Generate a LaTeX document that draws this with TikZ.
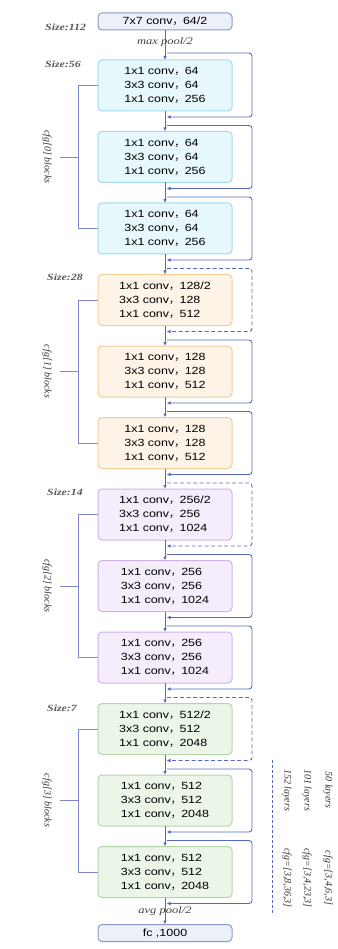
\documentclass[tikz,border=0pt]{standalone}
\usepackage{fontspec}
\setmainfont{Liberation Sans}
\newfontfamily\boxfont[FakeStretch=1.2]{Liberation Sans}
\newfontfamily\lblfont[FakeStretch=1.25]{Liberation Serif}
\newfontfamily\rotfont{Liberation Serif}
\newfontfamily\cjk{Noto Sans CJK SC}
\newcommand{\cc}{{\cjk ，}}
\usepackage{tikz}
\usetikzlibrary{arrows.meta,positioning,calc}
\definecolor{trunk}{RGB}{84,104,196}
\definecolor{grpline}{RGB}{124,134,206}
\definecolor{endbd}{RGB}{140,152,204}
\definecolor{endbg}{RGB}{238,240,249}
\definecolor{cyanbd}{RGB}{160,218,230}
\definecolor{cyanbg}{RGB}{230,248,251}
\definecolor{orbd}{RGB}{244,204,150}
\definecolor{orbg}{RGB}{253,244,231}
\definecolor{pubd}{RGB}{208,178,234}
\definecolor{pubg}{RGB}{245,237,251}
\definecolor{grbd}{RGB}{182,212,172}
\definecolor{grbg}{RGB}{235,245,232}
\begin{document}
\begin{tikzpicture}[x=1pt,y=-1pt,
  blk/.style={draw,rounded corners=4pt,line width=1pt,minimum width=134pt,
              minimum height=51pt,align=left,inner sep=2pt,outer sep=0pt,
              font=\boxfont\fontsize{10.4}{14}\selectfont},
  cy/.style={blk,draw=cyanbd,fill=cyanbg},
  og/.style={blk,draw=orbd,fill=orbg},
  pu/.style={blk,draw=pubd,fill=pubg},
  gr/.style={blk,draw=grbd,fill=grbg},
  endbox/.style={draw=endbd,fill=endbg,rounded corners=4pt,line width=1pt,
                 minimum width=134pt,minimum height=17pt,inner sep=1pt,outer sep=0pt,
                 font=\boxfont\fontsize{10.4}{12}\selectfont},
  ar/.style={-{Latex[length=4pt,width=3.5pt]},trunk,line width=0.9pt},
  res/.style={ar,rounded corners=3pt},
  dres/.style={res,dash pattern=on 4pt off 2.5pt},
  grp/.style={grpline,line width=0.9pt},
  sz/.style={font=\lblfont\bfseries\itshape\fontsize{9.5}{10}\selectfont,
             text=black!65,anchor=west,inner sep=0pt},
  pl/.style={font=\lblfont\itshape\fontsize{10}{10}\selectfont,
             text=black!75,inner sep=0pt},
  gl/.style={font=\rotfont\itshape\fontsize{10}{12}\selectfont,text=black!80,
             rotate=-90,anchor=north,inner xsep=0pt,inner ysep=8pt},
  lg/.style={font=\rotfont\itshape\fontsize{10}{12}\selectfont,text=black!80,
             rotate=-90,inner sep=0pt},
]
\useasboundingbox (0,0) rectangle (337,949);
% ============ stem ============
\node[endbox] (stem) at (165,21.5) {7x7 conv\cc 64/2};
\node[sz] (s112) at ([xshift=-53pt,yshift=3pt]stem.south west) {Size:112};
% ============ cfg[0] ============
\node[cy,below=30pt of stem] (b1) {1x1 conv\cc 64\\3x3 conv\cc 64\\1x1 conv\cc 256};
\node[cy,below=20.5pt of b1] (b2) {1x1 conv\cc 64\\3x3 conv\cc 64\\1x1 conv\cc 256};
\node[cy,below=20.5pt of b2] (b3) {1x1 conv\cc 64\\3x3 conv\cc 64\\1x1 conv\cc 256};
% ============ cfg[1] ============
\node[og,below=20.5pt of b3] (b4) {1x1 conv\cc 128/2\\3x3 conv\cc 128\\1x1 conv\cc 512};
\node[og,below=20.5pt of b4] (b5) {1x1 conv\cc 128\\3x3 conv\cc 128\\1x1 conv\cc 512};
\node[og,below=20.5pt of b5] (b6) {1x1 conv\cc 128\\3x3 conv\cc 128\\1x1 conv\cc 512};
% ============ cfg[2] ============
\node[pu,below=20.5pt of b6] (b7) {1x1 conv\cc 256/2\\3x3 conv\cc 256\\1x1 conv\cc 1024};
\node[pu,below=20.5pt of b7] (b8) {1x1 conv\cc 256\\3x3 conv\cc 256\\1x1 conv\cc 1024};
\node[pu,below=20.5pt of b8] (b9) {1x1 conv\cc 256\\3x3 conv\cc 256\\1x1 conv\cc 1024};
% ============ cfg[3] ============
\node[gr,below=20.5pt of b9] (b10) {1x1 conv\cc 512/2\\3x3 conv\cc 512\\1x1 conv\cc 2048};
\node[gr,below=20.5pt of b10] (b11) {1x1 conv\cc 512\\3x3 conv\cc 512\\1x1 conv\cc 2048};
\node[gr,below=20.5pt of b11] (b12) {1x1 conv\cc 512\\3x3 conv\cc 512\\1x1 conv\cc 2048};
% ============ head ============
\node[endbox,below=27pt of b12] (fc) {fc ,1000};
% size labels
\node[sz] (s56) at ([xshift=-53pt,yshift=-4pt]b1.north west) {Size:56};
\node[sz] (s28) at ([xshift=-51pt,yshift=-3pt]b4.north west) {Size:28};
\node[sz] (s14) at ([xshift=-51pt,yshift=-3.5pt]b7.north west) {Size:14};
\node[sz] (s7) at ([xshift=-51pt,yshift=-5pt]b10.north west) {Size:7};
% ============ trunk ============
\draw[ar] (stem) -- node[pl,pos=.4] {max pool/2} (b1);
\draw[ar] (b1) -- (b2);
\draw[ar] (b2) -- (b3);
\draw[ar] (b3) -- (b4);
\draw[ar] (b4) -- (b5);
\draw[ar] (b5) -- (b6);
\draw[ar] (b6) -- (b7);
\draw[ar] (b7) -- (b8);
\draw[ar] (b8) -- (b9);
\draw[ar] (b9) -- (b10);
\draw[ar] (b10) -- (b11);
\draw[ar] (b11) -- (b12);
\draw[ar] (b12) -- node[pl,pos=.5] {avg pool/2} (fc);
% ============ shortcuts ============
\draw[res] ([xshift=2pt,yshift=7pt]b1.north) -| ([xshift=20pt]b1.east) |- ([xshift=1.5pt,yshift=-6pt]b1.south);
\draw[res] ([xshift=2pt,yshift=6pt]b2.north) -| ([xshift=20pt]b2.east) |- ([xshift=1.5pt,yshift=-6pt]b2.south);
\draw[res] ([xshift=2pt,yshift=6pt]b3.north) -| ([xshift=20pt]b3.east) |- ([xshift=1.5pt,yshift=-6pt]b3.south);
\draw[dres] ([xshift=2pt,yshift=6pt]b4.north) -| ([xshift=20pt]b4.east) |- ([xshift=1.5pt,yshift=-6pt]b4.south);
\draw[res] ([xshift=2pt,yshift=6pt]b5.north) -| ([xshift=20pt]b5.east) |- ([xshift=1.5pt,yshift=-6pt]b5.south);
\draw[res] ([xshift=2pt,yshift=6pt]b6.north) -| ([xshift=20pt]b6.east) |- ([xshift=1.5pt,yshift=-6pt]b6.south);
\draw[dres] ([xshift=2pt,yshift=6pt]b7.north) -| ([xshift=20pt]b7.east) |- ([xshift=1.5pt,yshift=-6pt]b7.south);
\draw[res] ([xshift=2pt,yshift=6pt]b8.north) -| ([xshift=20pt]b8.east) |- ([xshift=1.5pt,yshift=-6pt]b8.south);
\draw[res] ([xshift=2pt,yshift=6pt]b9.north) -| ([xshift=20pt]b9.east) |- ([xshift=1.5pt,yshift=-6pt]b9.south);
\draw[dres] ([xshift=2pt,yshift=6pt]b10.north) -| ([xshift=20pt]b10.east) |- ([xshift=1.5pt,yshift=-6pt]b10.south);
\draw[res] ([xshift=2pt,yshift=6pt]b11.north) -| ([xshift=20pt]b11.east) |- ([xshift=1.5pt,yshift=-6pt]b11.south);
\draw[res] ([xshift=2pt,yshift=6pt]b12.north) -| ([xshift=20pt]b12.east) |- ([xshift=1.5pt,yshift=-6pt]b12.south);
% ============ stage brackets ============
\draw[grp] (b1.west) -- ++(-20,0) |- (b3.west);
\draw[grp] ($(b1.west)!0.5!(b3.west)+(-20,0)$) -- ++(-18,0) node[gl] (g0) {cfg[0] blocks};
\draw[grp] (b4.west) -- ++(-20,0) |- (b6.west);
\draw[grp] ($(b4.west)!0.5!(b6.west)+(-20,0)$) -- ++(-18,0) node[gl] (g1) {cfg[1] blocks};
\draw[grp] (b7.west) -- ++(-20,0) |- (b9.west);
\draw[grp] ($(b7.west)!0.5!(b9.west)+(-20,0)$) -- ++(-18,0) node[gl] (g2) {cfg[2] blocks};
\draw[grp] (b10.west) -- ++(-20,0) |- (b12.west);
\draw[grp] ($(b10.west)!0.5!(b12.west)+(-20,0)$) -- ++(-18,0) node[gl] (g3) {cfg[3] blocks};
% ============ depth legend ============
\coordinate (lgtop) at (272,760);
\coordinate (lgbot) at (272,915);
\draw[trunk,line width=0.8pt,dash pattern=on 3pt off 2pt] (lgtop) -- (lgbot);
\node[lg] (n152) at (287,790) {152 layers};
\node[lg] (n101) at (307,790) {101 layers};
\node[lg] (n50) at (328,790) {50 layers};
\node[lg] (c152) at (287,878) {cfg=[3,8,36,3]};
\node[lg] (c101) at (307,878) {cfg=[3,4,23,3]};
\node[lg] (c50) at (328,878) {cfg=[3,4,6,3]};
\end{tikzpicture}
\end{document}
